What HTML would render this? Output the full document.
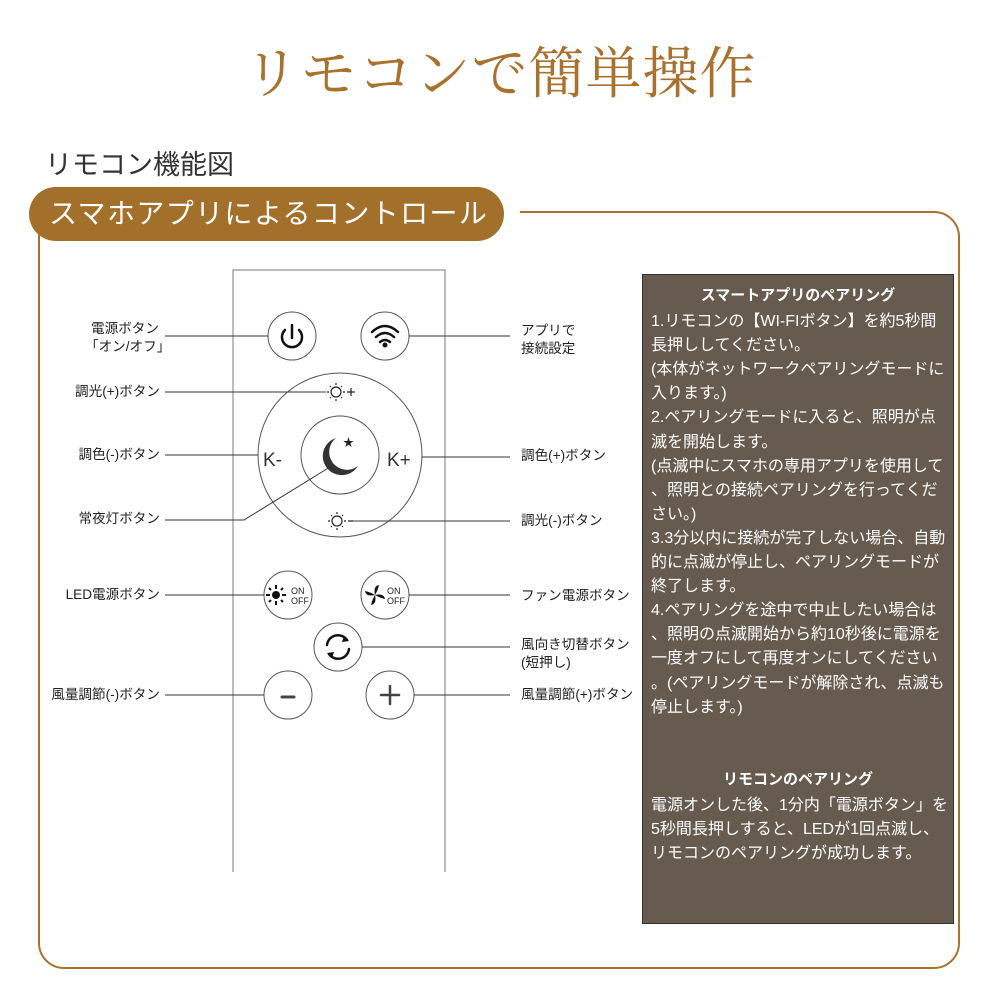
<!DOCTYPE html>
<html><head><meta charset="utf-8"><style>
body{margin:0;width:1000px;height:1000px;background:#fff;position:relative;overflow:hidden;font-family:"Liberation Sans","Noto Sans CJK JP",sans-serif;}
.a{position:absolute;white-space:nowrap;}
.title{left:0;width:1000px;top:30px;text-align:center;font-family:"Liberation Serif","Noto Serif CJK SC",serif;font-size:56px;color:#a8722e;letter-spacing:1px;}
.sub{left:45px;top:143px;font-size:27px;color:#333;}
.frame{left:38px;top:211px;width:922px;height:758px;border:2px solid #a8722e;border-radius:26px;box-sizing:border-box;}
.pill{left:29px;top:187px;width:475px;height:54px;background:#a3702c;border-radius:27px;color:#fff;font-size:28px;line-height:54px;padding-left:20px;box-sizing:border-box;letter-spacing:1.4px;overflow:hidden;}
.lbl{font-size:13.6px;color:#222;line-height:18px;}
.r{text-align:right;width:200px;}
.panel{left:642px;top:274px;width:312px;height:650px;background:#675b4f;border:1px solid #333;box-sizing:border-box;color:#fff;font-size:16px;line-height:24.1px;padding:9px 0 0 8px;}
.panel h4{margin:0 0 2px;text-align:center;font-size:15px;font-weight:bold;padding-right:8px;}
</style></head><body>
<div class="a title">リモコンで簡単操作</div>
<div class="a sub">リモコン機能図</div>
<div class="a frame"></div>
<div class="a" style="left:500px;top:205px;width:20px;height:10px;background:#fff"></div>
<div class="a pill">スマホアプリによるコントロール</div>

<svg class="a" style="left:0;top:0" width="1000" height="1000">
<g fill="none" stroke="#555" stroke-width="1">
<path d="M233 872V270H445V872" stroke="#777"/>
<circle cx="292" cy="336" r="24"/><circle cx="385" cy="336" r="24"/>
<circle cx="340" cy="455" r="82"/><circle cx="340" cy="455" r="39"/>
<circle cx="288" cy="595" r="24"/><circle cx="385" cy="595" r="24"/>
<circle cx="338" cy="647" r="24"/>
<circle cx="288" cy="695" r="24"/><circle cx="390" cy="695" r="24"/>
</g>
<g stroke="#333" stroke-width="1">
<line x1="165" y1="336" x2="268" y2="336"/>
<line x1="409" y1="336" x2="510" y2="336"/>
<line x1="165" y1="392" x2="326" y2="392"/>
<line x1="165" y1="455" x2="258" y2="455"/>
<line x1="422" y1="457" x2="510" y2="457"/>
<polyline points="165,520 244,520 330,467" fill="none"/>
<line x1="352" y1="521" x2="510" y2="521"/>
<line x1="165" y1="595" x2="264" y2="595"/>
<line x1="409" y1="595" x2="510" y2="595"/>
<line x1="362" y1="647" x2="510" y2="647"/>
<line x1="165" y1="695" x2="264" y2="695"/>
<line x1="414" y1="695" x2="510" y2="695"/>
</g>
<g fill="none" stroke="#111" stroke-width="2.5" stroke-linecap="round">
<path d="M285 330a10 10 0 1 0 14 0"/><line x1="292" y1="325" x2="292" y2="338"/>
<path d="M372 332q13-12 26 0M376 337q9-8 18 0M380 342q5-4 10 0"/>
<path d="M327 645a11 11 0 0 1 20-5M349 649a11 11 0 0 1-20 5"/>
<line x1="282" y1="697" x2="294" y2="697" stroke-width="3" stroke="#444"/>
<path d="M390 686v18M381 695h18" stroke="#444"/>
</g>
<path d="M344 636l5 5-7 1zM332 658l-5-5 7-1z" fill="#111"/>
<circle cx="385" cy="345" r="2.5" fill="#111"/>
<g fill="none" stroke="#222" stroke-width="1.2">
<circle cx="336" cy="392" r="5"/><path d="M336 383v2M336 399v2M327 392h2M343 392h2M330 386l1 1M342 386l-1 1M330 398l1-1M342 398l-1-1M347 392h8M351 388v8"/>
<circle cx="337" cy="521" r="5"/><path d="M337 512v2M337 528v2M328 521h2M344 521h2M331 515l1 1M343 515l-1 1M331 527l1-1M343 527l-1-1M348 521h5"/>
</g>
<path d="M336 438a19 19 0 1 0 22 28a15 15 0 1 1-22-28z" fill="#333"/>
<text x="343" y="446" font-size="11" fill="#222">★</text>
<text x="263" y="466" font-size="19" fill="#333" font-family="Liberation Sans">K-</text>
<text x="387" y="466" font-size="19" fill="#333" font-family="Liberation Sans">K+</text>
<circle cx="276" cy="595" r="4" fill="#111"/>
<path d="M276 585v4M276 601v4M266 595h4M282 595h4M269 588l2 2M283 588l-2 2M269 602l2-2M283 602l-2-2" stroke="#111" stroke-width="2"/>
<text x="291" y="594" font-size="9" fill="#222">ON</text><text x="291" y="604" font-size="9" fill="#222">OFF</text>
<text x="387" y="594" font-size="9" fill="#222">ON</text><text x="387" y="604" font-size="9" fill="#222">OFF</text>
<g fill="#111"><path d="M375 595q-2-9 4-10q-1 5-4 10zM375 595q9-2 10 4q-5-1-10-4zM375 595q2 9-4 10q1-5 4-10zM375 595q-9 2-10-4q5 1 10 4z"/></g>
</svg>

<div class="a lbl" style="left:85px;top:320px;text-align:center;width:80px">電源ボタン<br>「オン/オフ」</div>
<div class="a lbl" style="left:521px;top:322px">アプリで<br>接続設定</div>
<div class="a lbl r" style="left:-40px;top:383px">調光(+)ボタン</div>
<div class="a lbl r" style="left:-40px;top:446px">調色(-)ボタン</div>
<div class="a lbl" style="left:521px;top:447px">調色(+)ボタン</div>
<div class="a lbl r" style="left:-40px;top:510px">常夜灯ボタン</div>
<div class="a lbl" style="left:521px;top:512px">調光(-)ボタン</div>
<div class="a lbl r" style="left:-40px;top:586px">LED電源ボタン</div>
<div class="a lbl" style="left:521px;top:587px">ファン電源ボタン</div>
<div class="a lbl" style="left:521px;top:636px">風向き切替ボタン<br>(短押し)</div>
<div class="a lbl r" style="left:-40px;top:686px">風量調節(-)ボタン</div>
<div class="a lbl" style="left:521px;top:686px">風量調節(+)ボタン</div>

<div class="a panel">
<h4>スマートアプリのペアリング</h4>
1.リモコンの【WI-FIボタン】を約5秒間<br>長押ししてください。<br>(本体がネットワークペアリングモードに<br>入ります。)<br>2.ペアリングモードに入ると、照明が点<br>滅を開始します。<br>(点滅中にスマホの専用アプリを使用して<br>、照明との接続ペアリングを行ってくだ<br>さい。)<br>3.3分以内に接続が完了しない場合、自動<br>的に点滅が停止し、ペアリングモードが<br>終了します。<br>4.ペアリングを途中で中止したい場合は<br>、照明の点滅開始から約10秒後に電源を<br>一度オフにして再度オンにしてください<br>。(ペアリングモードが解除され、点滅も<br>停止します。)
<h4 style="margin-top:48px">リモコンのペアリング</h4>
電源オンした後、1分内「電源ボタン」を<br>5秒間長押しすると、LEDが1回点滅し、<br>リモコンのペアリングが成功します。
</div>
</body></html>
